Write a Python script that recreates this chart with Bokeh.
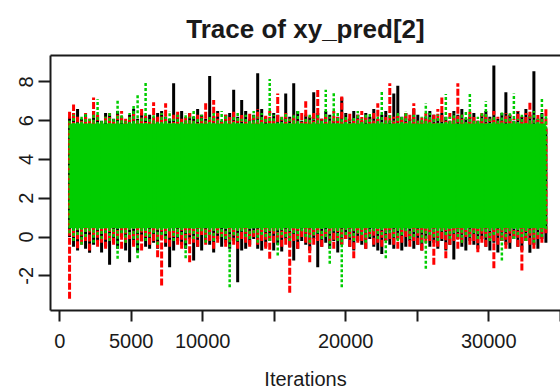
import numpy as np
from bokeh.plotting import figure
from bokeh.models import Range1d, LinearAxis, FixedTicker
from bokeh.embed import file_html
from bokeh.resources import INLINE

# ---- data ----
first_iter = 690
last_iter = 34000
n_buckets = 120

# chain 1 (black, solid): per-bucket max / min of the trace
black_hi = [6.2, 6.4, 6.6, 6.1, 6.3, 5.9, 6.5, 6.2, 6.0, 6.4,
            6.3, 6.1, 6.5, 6.2, 6.0, 6.3, 6.6, 6.1, 6.4, 6.2,
            6.3, 6.0, 6.4, 6.5, 6.2, 6.1, 7.93, 6.3, 6.5, 6.0,
            6.4, 6.2, 6.6, 6.3, 6.1, 8.3, 6.2, 6.5, 6.0, 6.3,
            6.4, 7.6, 6.2, 7.07, 6.5, 6.1, 6.3, 8.45, 6.6, 6.2,
            6.0, 6.4, 6.3, 6.1, 7.4, 6.2, 7.93, 6.5, 6.0, 6.3,
            6.2, 7.46, 6.4, 6.1, 6.5, 6.3, 6.0, 6.2, 7.2, 6.4,
            6.1, 6.5, 6.3, 6.0, 6.4, 6.2, 6.6, 6.1, 6.3, 6.5,
            6.0, 7.4, 7.8, 6.2, 6.4, 6.1, 6.6, 6.3, 6.0, 6.2,
            6.5, 6.3, 6.1, 6.4, 6.2, 6.0, 6.5, 6.3, 6.6, 6.1,
            6.2, 6.4, 6.0, 6.3, 6.5, 6.2, 8.84, 6.1, 6.4, 7.46,
            6.3, 6.0, 6.5, 6.2, 6.6, 6.3, 8.55, 6.1, 6.4, 5.6]
black_lo = [0.0, -0.5, -0.7, -0.1, -0.6, -0.81, -0.4, -0.2, -0.8, -0.5,
            -1.43, -0.3, -0.6, 0.0, -0.7, -1.3, -0.4, -0.8, -0.2, -0.5,
            -0.61, -0.3, -0.6, -0.1, -0.5, -1.56, -0.7, -0.2, -0.4, -0.6,
            -0.1, -1.21, -0.5, -0.7, -0.2, -0.4, -0.8, -0.1, -0.5, -0.3,
            -0.6, -0.2, -2.33, -0.7, -0.61, -0.4, -0.1, -0.6, -0.7, -0.5,
            -0.2, -0.7, -0.4, -0.75, -0.1, -0.5, -1.21, -0.6, -0.2, -0.4,
            -0.7, -0.1, -1.56, -0.5, -0.3, -0.6, -0.2, -0.8, -0.4, -0.1,
            -0.5, -0.7, -0.2, -0.4, -0.6, -0.1, -0.5, -0.7, -0.87, -0.2,
            -0.4, -0.6, -0.1, -0.7, -0.5, -0.2, -0.61, -0.4, -0.7, -0.1,
            -0.5, -0.3, -0.6, -0.2, -0.7, -0.4, -1.16, -0.1, -0.5, -0.7,
            -0.2, -0.4, -0.6, -0.1, -0.5, -0.7, -0.3, -0.8, -0.2, -0.4,
            -0.6, -0.1, -0.5, -0.7, -0.2, -0.81, -0.4, -0.6, -0.1, -0.3]

# chain 2 (red, dashed)
red_hi = [6.5, 6.83, 6.2, 6.0, 6.4, 6.1, 7.2, 6.3, 5.9, 6.2,
          6.4, 6.0, 6.3, 6.5, 6.1, 6.2, 6.4, 6.0, 6.6, 6.3,
          6.1, 6.95, 6.2, 6.4, 6.9, 6.0, 6.3, 6.5, 6.1, 6.2,
          6.4, 6.0, 6.3, 6.2, 6.9, 6.1, 7.07, 6.4, 6.0, 6.3,
          6.2, 6.5, 6.1, 6.3, 6.0, 6.4, 6.2, 6.6, 6.1, 6.3,
          6.5, 6.0, 7.4, 6.2, 6.4, 6.1, 6.3, 6.0, 6.5, 7.0,
          6.2, 6.4, 7.6, 6.1, 6.3, 6.0, 6.5, 6.2, 7.24, 6.1,
          6.4, 6.0, 6.3, 6.5, 6.2, 6.1, 6.4, 6.9, 6.0, 6.3,
          7.93, 6.2, 6.4, 6.1, 6.5, 6.3, 6.9, 6.0, 6.2, 6.4,
          6.1, 6.3, 6.6, 7.2, 6.0, 6.4, 6.2, 7.93, 6.3, 6.1,
          6.5, 6.2, 6.0, 6.4, 6.3, 6.1, 6.5, 6.2, 6.0, 6.4,
          6.3, 6.1, 6.5, 6.2, 6.4, 7.0, 6.0, 6.3, 6.1, 6.6]
red_lo = [-3.19, 0.0, -0.58, -0.4, -0.2, -0.7, 0.1, -0.5, -0.3, -0.6,
          -0.2, -0.4, 0.0, -0.6, -0.3, -0.1, -0.5, -0.2, -0.7, 0.0,
          -0.4, -0.2, -1.04, -2.5, -0.3, -0.5, 0.0, -0.4, -0.6, -0.2,
          -1.3, -0.3, -0.5, 0.1, -0.4, -0.2, -0.6, -0.3, 0.0, -0.5,
          -0.2, -0.4, -0.6, -0.1, -0.3, -0.5, 0.0, -0.4, -0.2, -0.6,
          -1.12, -0.3, -0.1, -0.5, -0.4, -2.88, -0.2, -0.6, 0.0, -0.3,
          -1.3, -0.4, -0.2, -0.5, 0.0, -0.3, -0.6, -0.2, -0.4, -0.1,
          -0.5, -1.09, -0.3, -0.2, -0.6, 0.0, -0.4, -0.3, -0.5, -0.2,
          -0.1, -0.4, -0.6, -0.3, 0.0, -0.5, -0.2, -0.4, -0.7, -0.3,
          -0.2, -1.43, -0.5, -0.1, -1.09, -0.4, -0.2, -0.6, -0.3, 0.0,
          -0.4, -0.2, -0.78, -0.3, -0.5, -0.1, -1.61, -0.4, -0.2, -0.6,
          -0.3, 0.0, -0.5, -1.73, -0.2, -0.4, -0.6, -0.1, -0.3, 0.2]

# chain 3 (green, dotted)
green_hi = [6.0, 6.3, 5.9, 6.2, 6.4, 6.1, 6.3, 7.1, 6.0, 6.2,
            6.5, 6.1, 7.07, 6.3, 6.0, 6.4, 6.83, 7.4, 6.2, 8.03,
            6.1, 6.3, 6.0, 6.4, 6.2, 6.5, 6.1, 6.3, 6.0, 6.4,
            6.2, 6.6, 6.1, 6.3, 6.0, 6.2, 6.4, 6.1, 6.5, 6.3,
            6.0, 6.2, 6.4, 6.1, 6.3, 6.0, 6.5, 6.2, 6.4, 6.1,
            8.15, 6.3, 6.0, 6.2, 6.4, 6.1, 6.3, 6.6, 6.0, 6.2,
            6.4, 6.1, 6.3, 6.0, 7.6, 6.2, 7.46, 6.4, 6.1, 6.3,
            6.0, 6.2, 6.5, 6.1, 6.3, 6.4, 6.0, 6.2, 7.5, 6.1,
            6.3, 6.0, 6.4, 6.2, 6.5, 6.1, 6.3, 6.0, 6.2, 6.9,
            6.4, 6.1, 6.3, 6.0, 7.38, 6.2, 6.4, 6.1, 6.3, 6.5,
            7.38, 6.0, 6.2, 6.4, 7.0, 6.1, 6.3, 6.0, 6.5, 6.2,
            6.4, 7.4, 6.1, 6.3, 6.0, 6.2, 6.5, 6.1, 7.12, 6.3]
green_lo = [0.2, -0.2, 0.1, -0.4, 0.0, 0.3, -0.3, 0.1, -0.1, 0.2,
            -0.2, 0.0, -1.12, 0.2, -0.3, 0.1, -0.1, -1.09, 0.3, -0.2,
            0.0, 0.2, -0.4, 0.1, -0.1, 0.3, -0.2, 0.0, 0.1, -1.09,
            0.2, -0.1, 0.0, 0.3, -0.3, 0.1, -0.2, 0.2, 0.0, -0.1,
            -2.59, 0.1, -0.2, 0.3, 0.0, -0.1, 0.2, -0.3, 0.1, 0.0,
            -0.2, 0.3, -0.95, 0.1, 0.0, -0.2, 0.2, -0.1, 0.3, 0.0,
            -0.3, 0.1, 0.2, -0.1, 0.0, -1.38, 0.3, -0.2, -2.59, 0.1,
            0.0, -0.2, 0.2, 0.1, -0.3, 0.0, 0.3, -0.1, 0.1, -1.09,
            0.2, 0.0, -0.2, 0.1, 0.3, -0.1, 0.0, 0.2, -0.3, -1.64,
            0.1, 0.0, -0.2, 0.3, 0.1, -0.1, 0.2, 0.0, -0.3, 0.1,
            0.0, 0.2, -0.1, 0.3, 0.0, -0.2, 0.1, 0.2, -1.21, 0.0,
            0.3, -0.1, 0.1, 0.0, -0.2, 0.2, -0.3, 0.1, 0.0, 0.4]

# dense core of the (top-most) green chain
green_core_lo = 0.45
green_core_hi = 5.85

x_tick_values = [0, 5000, 10000, 15000, 20000, 25000, 30000, 35000]
x_tick_labels = ["0", "5000", "10000", "", "20000", "", "30000", ""]
y_tick_values = [-2, 0, 2, 4, 6, 8]
y_tick_labels = ["-2", "0", "2", "4", "6", "8"]

# ---- plot ----
iters = np.linspace(first_iter, last_iter, n_buckets)
FONT = "Liberation Sans"
INK = "#1a1a1a"

p = figure(width=560, height=392,
           x_range=Range1d(-643, 35021), y_range=Range1d(-3.79, 9.36),
           output_backend="svg", toolbar_location=None,
           min_border_left=50, min_border_right=0,
           min_border_top=55, min_border_bottom=82)
p.outline_line_color = None
p.xgrid.visible = False
p.ygrid.visible = False
p.background_fill_color = "white"
p.border_fill_color = "white"

p.segment(x0=iters, y0=black_lo, x1=iters, y1=black_hi,
          line_color="black", line_width=3)
p.segment(x0=iters, y0=red_lo, x1=iters, y1=red_hi,
          line_color="#FF0000", line_width=3, line_dash="7 2")
p.varea(x=[iters[0], iters[-1]], y1=[green_core_lo, green_core_lo],
        y2=[green_core_hi, green_core_hi], fill_color="#00CD00")
p.segment(x0=iters, y0=green_lo, x1=iters, y1=green_hi,
          line_color="#00CD00", line_width=2.5, line_dash="3 2")

# title
p.title.text = "Trace of xy_pred[2]"
p.title.align = "center"
p.title.text_font = FONT
p.title.text_font_size = "26px"
p.title.text_font_style = "bold"
p.title.text_color = INK
p.title.standoff = 23

# x axis
xa = p.xaxis[0]
xa.ticker = FixedTicker(ticks=x_tick_values)
xa.major_label_overrides = {v: s for v, s in zip(x_tick_values, x_tick_labels)}
xa.minor_tick_line_color = None
xa.major_tick_out = 11
xa.major_tick_in = 0
xa.major_tick_line_width = 2
xa.major_tick_line_color = INK
xa.axis_line_width = 2
xa.axis_line_color = INK
xa.major_label_text_font = FONT
xa.major_label_text_font_size = "20px"
xa.major_label_text_color = INK
xa.major_label_standoff = 12
xa.axis_label = "Iterations"
xa.axis_label_text_font = FONT
xa.axis_label_text_font_size = "20px"
xa.axis_label_text_font_style = "normal"
xa.axis_label_text_color = INK
xa.axis_label_standoff = 17

# y axis
ya = p.yaxis[0]
ya.ticker = FixedTicker(ticks=y_tick_values)
ya.major_label_overrides = {v: s for v, s in zip(y_tick_values, y_tick_labels)}
ya.minor_tick_line_color = None
ya.major_tick_out = 12
ya.major_tick_in = 0
ya.major_tick_line_width = 2
ya.major_tick_line_color = INK
ya.axis_line_width = 2
ya.axis_line_color = INK
ya.major_label_text_font = FONT
ya.major_label_text_font_size = "20px"
ya.major_label_text_color = INK
ya.major_label_orientation = "vertical"
ya.major_label_standoff = 5

# top border of the box
top = LinearAxis(ticker=FixedTicker(ticks=[]), axis_line_width=2,
                 axis_line_color=INK, major_tick_line_color=None,
                 minor_tick_line_color=None, major_label_text_font_size="0px")
p.add_layout(top, "above")

open("out.html", "w").write(file_html(p, INLINE))
